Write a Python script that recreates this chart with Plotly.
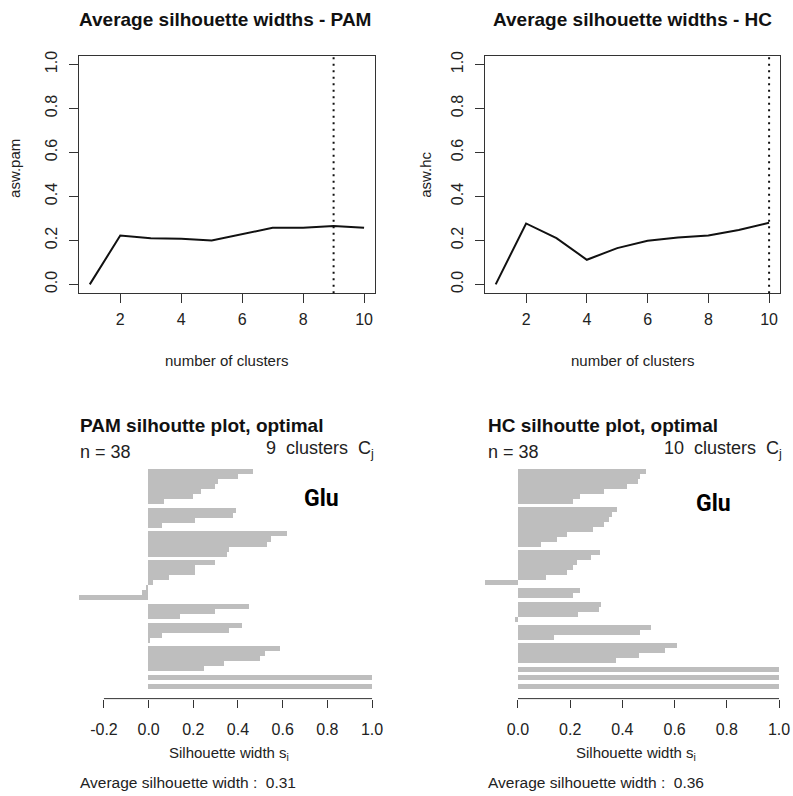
import numpy as np
import plotly.graph_objects as go

W, H = 793, 796

# ---------------- data ----------------
n_clusters = [1, 2, 3, 4, 5, 6, 7, 8, 9, 10]
asw_pam = [0.0, 0.222, 0.21, 0.207, 0.20, 0.23, 0.257, 0.257, 0.265, 0.257]
asw_hc = [0.0, 0.277, 0.21, 0.112, 0.165, 0.198, 0.213, 0.222, 0.247, 0.28]
y_ticks_top = [0.0, 0.2, 0.4, 0.6, 0.8, 1.0]
x_ticks_top = [2, 4, 6, 8, 10]

pam_sil = [
    [0.47, 0.40, 0.31, 0.30, 0.235, 0.20, 0.07],
    [0.39, 0.38, 0.21, 0.06],
    [0.62, 0.55, 0.53, 0.36, 0.35],
    [0.30, 0.21, 0.21, 0.09, 0.02, -0.01, -0.03, -0.31],
    [0.45, 0.30, 0.14],
    [0.42, 0.36, 0.06, 0.005],
    [0.59, 0.52, 0.50, 0.34, 0.25],
    [1.0],
    [1.0],
]
hc_sil = [
    [0.49, 0.47, 0.46, 0.42, 0.33, 0.24, 0.21],
    [0.38, 0.36, 0.35, 0.33, 0.29, 0.19, 0.15, 0.09],
    [0.315, 0.28, 0.225, 0.21, 0.19, 0.11, -0.125],
    [0.24, 0.21],
    [0.32, 0.31, 0.23, -0.01],
    [0.51, 0.47, 0.14],
    [0.61, 0.565, 0.465, 0.375],
    [1.0],
    [1.0],
    [1.0],
]
pam_ticks = [-0.2, 0.0, 0.2, 0.4, 0.6, 0.8, 1.0]
hc_ticks = [0.0, 0.2, 0.4, 0.6, 0.8, 1.0]
pam_avg_label = "0.31"
hc_avg_label = "0.36"

FONT = "Liberation Sans, Arial, sans-serif"
TXT = "#222222"
BAR = "#BEBEBE"


def px(x):
    return x / W


def py(y):
    return 1 - y / H


fig = go.Figure()

# ---------------- top plots ----------------
top_specs = [
    dict(xa="x", ya="y", data=asw_pam, dom=(79, 376), ylab="asw.pam", ylx=15, yly=164,
         title="Average silhouette widths - PAM", tx=226, xlx=227),
    dict(xa="x2", ya="y2", data=asw_hc, dom=(486, 782), ylab="asw.hc", ylx=427, yly=171,
         title="Average silhouette widths - HC", tx=634, xlx=634),
]
annotations = []
shapes = []
for i, s in enumerate(top_specs):
    fig.add_trace(go.Scatter(x=n_clusters, y=s["data"], mode="lines",
                             line=dict(color="#111111", width=2),
                             xaxis=s["xa"], yaxis=s["ya"], showlegend=False))
    best = n_clusters[int(np.argmax(s["data"]))]
    shapes.append(dict(type="line", xref=s["xa"], yref=s["ya"] + " domain",
                       x0=best, x1=best, y0=0, y1=1,
                       line=dict(color="#111111", width=2, dash="2px,4.5px")))
    suffix = "" if i == 0 else "2"
    axis_common = dict(showline=True, mirror=True, linecolor="#333333", linewidth=1,
                       ticks="outside", ticklen=9, tickcolor="#333333",
                       showgrid=False, zeroline=False,
                       tickfont=dict(family=FONT, size=16, color=TXT))
    fig.update_layout(**{
        "xaxis" + suffix: dict(domain=[px(s["dom"][0]), px(s["dom"][1])],
                               range=[0.64, 10.36], tickvals=x_ticks_top,
                               ticklabelstandoff=3,
                               anchor=s["ya"], **axis_common),
        "yaxis" + suffix: dict(domain=[py(290), py(51)], range=[-0.04, 1.04],
                               tickvals=y_ticks_top,
                               ticktext=["%.1f" % v for v in y_ticks_top],
                               ticklabelstandoff=5,
                               tickangle=-90, anchor=s["xa"], **axis_common),
    })
    annotations.append(dict(text="<b>" + s["title"] + "</b>", x=px(s["tx"]), y=py(15),
                            xref="paper", yref="paper", showarrow=False,
                            xanchor="center", yanchor="middle",
                            font=dict(family=FONT, size=19, color="#111111")))
    annotations.append(dict(text=s["ylab"], x=px(s["ylx"]), y=py(s["yly"]),
                            xref="paper", yref="paper", showarrow=False, textangle=-90,
                            xanchor="center", yanchor="middle",
                            font=dict(family=FONT, size=15, color=TXT)))
    annotations.append(dict(text="number of clusters", x=px(s["xlx"]), y=py(358),
                            xref="paper", yref="paper", showarrow=False,
                            xanchor="center", yanchor="middle",
                            font=dict(family=FONT, size=15, color=TXT)))

# ---------------- silhouette plots ----------------
GAP = 0.7
bot_specs = [
    dict(xa="x3", ya="y3", sil=pam_sil, ticks=pam_ticks, x0=149, unit=224,
         rng=[-0.36, 1.04], lx=78, title="PAM silhoutte plot, optimal",
         cl_text="9  clusters  C<sub>j</sub>", crx=377, glu=(322, 497),
         avg=pam_avg_label, sw_x=230),
    dict(xa="x4", ya="y4", sil=hc_sil, ticks=hc_ticks, x0=519.3, unit=261.7,
         rng=[-0.16, 1.04], lx=487, title="HC silhoutte plot, optimal",
         cl_text="10  clusters  C<sub>j</sub>", crx=786, glu=(715, 502),
         avg=hc_avg_label, sw_x=638),
]
for j, s in enumerate(bot_specs):
    vals, pos = [], []
    cur = 0.0
    for ci, cl in enumerate(s["sil"]):
        if ci > 0:
            cur += GAP
        for v in cl:
            vals.append(v)
            pos.append(cur + 0.5)
            cur += 1.0
    total = cur
    scale = (688 - 467) / total
    fig.add_trace(go.Bar(x=vals, y=pos, orientation="h", width=1.0,
                         marker=dict(color=BAR, line=dict(width=0)),
                         xaxis=s["xa"], yaxis=s["ya"], showlegend=False))
    suffix = str(j + 3)
    dl = s["x0"] + s["rng"][0] * s["unit"]
    dr = s["x0"] + s["rng"][1] * s["unit"]
    fig.update_layout(**{
        "xaxis" + suffix: dict(domain=[px(dl), px(dr)], range=s["rng"],
                               tickvals=s["ticks"],
                               ticktext=["%.1f" % v for v in s["ticks"]],
                               ticks="outside", ticklen=8, tickcolor="#333333",
                               ticklabelstandoff=8,
                               showline=False, showgrid=False, zeroline=False,
                               anchor=s["ya"],
                               tickfont=dict(family=FONT, size=16, color=TXT)),
        "yaxis" + suffix: dict(domain=[py(698), py(462)],
                               range=[total + 10 / scale, -5 / scale],
                               visible=False, anchor=s["xa"]),
    })
    shapes.append(dict(type="line", xref=s["xa"], yref=s["ya"] + " domain",
                       x0=min(s["ticks"]), x1=max(s["ticks"]), y0=0, y1=0,
                       line=dict(color="#333333", width=1)))
    annotations += [
        dict(text="<b>" + s["title"] + "</b>", x=px(s["lx"]), y=py(423),
             xanchor="left", yanchor="middle",
             font=dict(family=FONT, size=19, color="#111111")),
        dict(text="n = 38", x=px(s["lx"]), y=py(450), xanchor="left", yanchor="middle",
             font=dict(family=FONT, size=18, color=TXT)),
        dict(text=s["cl_text"], x=px(s["crx"]), y=py(447), xanchor="right",
             yanchor="middle", font=dict(family=FONT, size=18, color=TXT)),
        dict(text="<b>Glu</b>", x=px(s["glu"][0]), y=py(s["glu"][1]),
             xanchor="center", yanchor="middle",
             font=dict(family="Roboto, Liberation Sans, sans-serif",
                       size=23, color="#000000")),
        dict(text="Silhouette width s<sub>i</sub>", x=px(s["sw_x"]), y=py(753),
             xanchor="center", yanchor="middle",
             font=dict(family=FONT, size=15, color=TXT)),
        dict(text="Average silhouette width :  " + s["avg"], x=px(s["lx"]), y=py(782),
             xanchor="left", yanchor="middle",
             font=dict(family=FONT, size=15.5, color=TXT)),
    ]

for a in annotations:
    a.setdefault("xref", "paper")
    a.setdefault("yref", "paper")
    a.setdefault("showarrow", False)

fig.update_layout(width=W, height=H, margin=dict(l=0, r=0, t=0, b=0),
                  paper_bgcolor="white", plot_bgcolor="white",
                  bargap=0, annotations=annotations, shapes=shapes,
                  showlegend=False)

fig.write_html("out.html")
